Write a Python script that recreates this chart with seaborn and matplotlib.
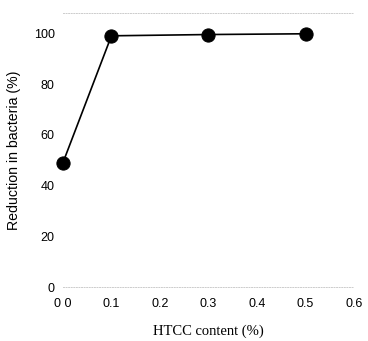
import matplotlib
matplotlib.use("Agg")
import matplotlib.pyplot as plt
import seaborn as sns
import pandas as pd

htcc_content = [0.0, 0.1, 0.3, 0.5]
reduction = [49.0, 99.0, 99.5, 99.8]
x_ticks = [0.0, 0.1, 0.2, 0.3, 0.4, 0.5, 0.6]
x_tick_labels = ["0 0", "0.1", "0.2", "0.3", "0.4", "0.5", "0.6"]
y_ticks = [0, 20, 40, 60, 80, 100]
y_tick_labels = ["0", "20", "40", "60", "80", "100"]

sns.set_style("white")
plt.rcParams["font.family"] = ["Liberation Sans", "DejaVu Sans"]
plt.rcParams["text.color"] = "black"
plt.rcParams["axes.labelcolor"] = "black"

df = pd.DataFrame({"x": htcc_content, "y": reduction})

fig = plt.figure(figsize=(3.68, 3.41), dpi=100)
ax = fig.add_axes([0.171, 0.158, 0.791, 0.804])

sns.lineplot(data=df, x="x", y="y", ax=ax, color="black", linewidth=1.2,
             marker="o", markersize=9.5, markeredgecolor="black",
             markerfacecolor="black", clip_on=False)

ax.set_xlim(0, 0.6)
ax.set_ylim(0, 108)
ax.set_xticks(x_ticks)
ax.set_xticklabels(x_tick_labels, fontsize=9)
ax.set_yticks(y_ticks)
ax.set_yticklabels(y_tick_labels, fontsize=9)
ax.tick_params(axis="x", length=0, pad=8, labelcolor="black")
ax.tick_params(axis="y", length=2, width=0.6, color="#999999", direction="in",
               pad=6, labelcolor="black")

for s in ["left", "right"]:
    ax.spines[s].set_visible(False)
for s in ["top", "bottom"]:
    ax.spines[s].set_color("#cccccc")
    ax.spines[s].set_linestyle(":")
    ax.spines[s].set_linewidth(0.7)

ax.set_xlabel("HTCC content (%)", fontsize=10.5, family=["Liberation Serif"],
              labelpad=10, color="black")
ax.set_ylabel("Reduction in bacteria (%)", fontsize=10.2, labelpad=9, color="black")

fig.savefig("out.png", dpi=100)
